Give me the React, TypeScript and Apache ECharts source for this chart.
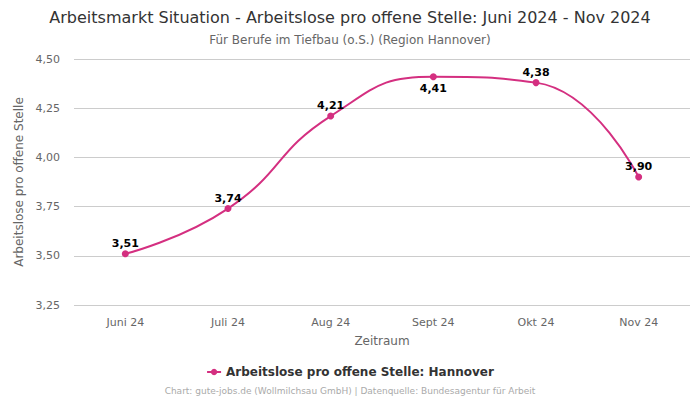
import React, { useEffect, useRef } from "react";
import * as echarts from "echarts";

const categories = ["Juni 24", "Juli 24", "Aug 24", "Sept 24", "Okt 24", "Nov 24"];
const values = [3.51, 3.74, 4.21, 4.41, 4.38, 3.9];
const labelBelow = [false, false, false, true, false, false];
const seriesName = "Arbeitslose pro offene Stelle: Hannover";
const color = "#d42f80";
const font = "DejaVu Sans";

const fmt = (v: number) => v.toFixed(2).replace(".", ",");

export default function App() {
  const ref = useRef<HTMLDivElement>(null);
  useEffect(() => {
    const chart = echarts.init(ref.current!, null, { renderer: "svg" });
    chart.setOption({
      animation: false,
      textStyle: { fontFamily: font },
      title: [
        {
          text: "Arbeitsmarkt Situation - Arbeitslose pro offene Stelle: Juni 2024 - Nov 2024",
          subtext: "Für Berufe im Tiefbau (o.S.) (Region Hannover)",
          left: "center",
          top: 4,
          itemGap: 9,
          textStyle: { fontFamily: font, fontSize: 16, fontWeight: "normal", color: "#333" },
          subtextStyle: { fontFamily: font, fontSize: 12, color: "#666" },
        },
        {
          text: "Chart: gute-jobs.de (Wollmilchsau GmbH) | Datenquelle: Bundesagentur für Arbeit",
          left: "center",
          top: 381,
          textStyle: { fontFamily: font, fontSize: 9, fontWeight: "normal", color: "#aaa" },
        },
      ],
      legend: {
        top: 361,
        left: "center",
        itemWidth: 14,
        itemHeight: 8,
        itemGap: 6,
        textStyle: { fontFamily: font, fontSize: 12, fontWeight: "bold", color: "#333" },
        data: [{ name: seriesName }],
      },
      grid: { left: 74, right: 10, top: 59, bottom: 95 },
      xAxis: {
        type: "category",
        data: categories,
        boundaryGap: true,
        name: "Zeitraum",
        nameLocation: "middle",
        nameGap: 30,
        nameTextStyle: { fontFamily: font, fontSize: 12, color: "#666" },
        axisLine: { show: false },
        axisTick: { show: false },
        axisLabel: { fontFamily: font, fontSize: 11, color: "#666", margin: 12 },
      },
      yAxis: {
        type: "value",
        min: 3.25,
        max: 4.5,
        interval: 0.25,
        name: "Arbeitslose pro offene Stelle",
        nameLocation: "middle",
        nameGap: 44,
        nameTextStyle: { fontFamily: font, fontSize: 12, color: "#666" },
        axisLabel: { fontFamily: font, fontSize: 11, color: "#666", formatter: (v: number) => fmt(v), margin: 14 },
        splitLine: { lineStyle: { color: "#ccc" } },
      },
      series: [
        {
          name: seriesName,
          type: "line",
          smooth: true,
          symbol: "circle",
          symbolSize: 7,
          itemStyle: { color },
          lineStyle: { color, width: 2 },
          data: values.map((v, i) => ({
            value: v,
            label: {
              show: true,
              position: labelBelow[i] ? "bottom" : "top",
              distance: labelBelow[i] ? 3 : 1.5,
              formatter: () => fmt(v),
              fontFamily: font,
              fontSize: 11,
              fontWeight: "bold",
              color: "#000",
            },
          })),
        },
      ],
    });
    return () => chart.dispose();
  }, []);
  return <div ref={ref} style={{ width: 700, height: 400, position: "absolute", left: 0, top: 0 }} />;
}
